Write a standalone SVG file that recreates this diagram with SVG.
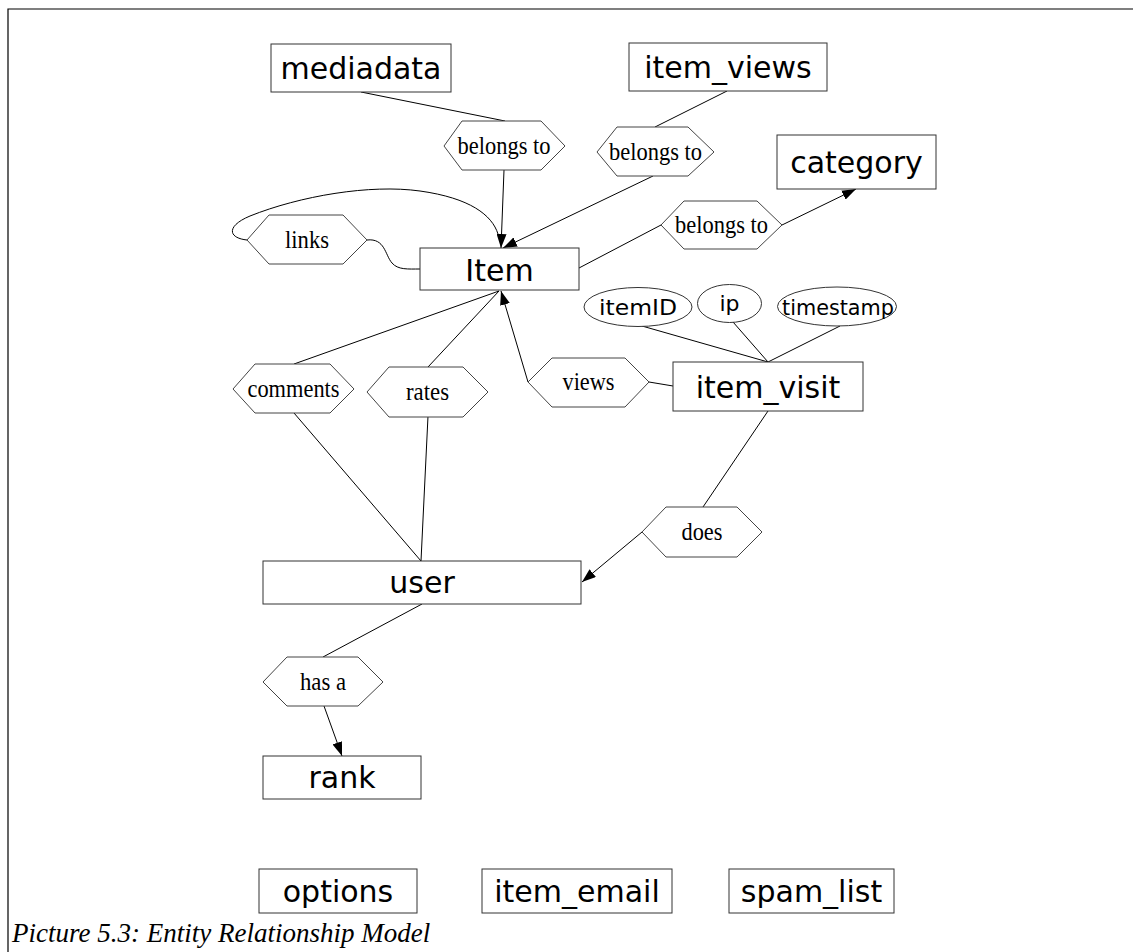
<svg xmlns="http://www.w3.org/2000/svg" width="1133" height="952" viewBox="0 0 1133 952">
  <style>
    .ent rect { fill: #fff; stroke: #333; stroke-width: 1; }
    .ent text { font-family: "DejaVu Sans", Verdana, sans-serif; font-size: 30px; text-anchor: middle; fill: #000; }
    .rel polygon { fill: #fff; stroke: #444; stroke-width: 1; }
    .rel text { font-family: "Liberation Serif", "Times New Roman", serif; font-size: 25px; text-anchor: middle; fill: #000; }
    .attr ellipse { fill: #fff; stroke: #333; stroke-width: 1; }
    .attr text { font-family: "DejaVu Sans", Verdana, sans-serif; font-size: 22px; text-anchor: middle; fill: #000; }
    .edge { fill: none; stroke: #000; stroke-width: 1; }
    .frame { fill: none; stroke: #000; stroke-width: 1.2; }
    .caption { font-family: "Liberation Serif", "Times New Roman", serif; font-style: italic; font-size: 27px; fill: #000; }
  </style>
  <defs>
    <marker id="arr" markerUnits="userSpaceOnUse" markerWidth="14" markerHeight="10" refX="14" refY="5" orient="auto">
      <path d="M0,0 L14,5 L0,10 z" fill="#000"/>
    </marker>
  </defs>

  <rect width="1133" height="952" fill="#fff"/>
  <!-- frame around the figure -->
  <path class="frame" d="M1133,9 H8 V952"/>

  <!-- connectors -->
  <g id="connectors">
    <line class="edge" x1="361" y1="92" x2="505" y2="121"/>
    <line class="edge" x1="504" y1="170" x2="501" y2="248" marker-end="url(#arr)"/>
    <line class="edge" x1="727" y1="91" x2="655" y2="127"/>
    <line class="edge" x1="653" y1="176" x2="503" y2="248" marker-end="url(#arr)"/>
    <line class="edge" x1="579" y1="268" x2="661" y2="225"/>
    <line class="edge" x1="782" y1="225" x2="856" y2="189" marker-end="url(#arr)"/>
    <path class="edge" d="M247,240 C228,238 226,226 250,216 C300,196 370,184 420,191 C470,198 492,215 498,234"/>
    <path class="edge" d="M367,240 C385,238 385,255 392,263 C398,270 408,269 420,269"/>
    <line class="edge" x1="294" y1="364" x2="499" y2="291"/>
    <line class="edge" x1="428" y1="367" x2="499" y2="291"/>
    <line class="edge" x1="528" y1="382" x2="501" y2="291" marker-end="url(#arr)"/>
    <line class="edge" x1="673" y1="386" x2="649" y2="382"/>
    <line class="edge" x1="642" y1="326" x2="768" y2="362"/>
    <line class="edge" x1="733" y1="322" x2="768" y2="362"/>
    <line class="edge" x1="840" y1="326" x2="768" y2="362"/>
    <line class="edge" x1="294" y1="413" x2="421" y2="561"/>
    <line class="edge" x1="428" y1="416" x2="421" y2="561"/>
    <line class="edge" x1="768" y1="411" x2="703" y2="507"/>
    <line class="edge" x1="642" y1="532" x2="582" y2="582" marker-end="url(#arr)"/>
    <line class="edge" x1="422" y1="604" x2="323" y2="657"/>
    <line class="edge" x1="324" y1="706" x2="342" y2="756" marker-end="url(#arr)"/>
  </g>

  <!-- entities -->
  <g id="mediadata" class="ent"><rect x="271" y="44" width="180" height="48"/><text x="361" y="79">mediadata</text></g>
  <g id="item_views" class="ent"><rect x="629" y="43" width="198" height="48"/><text x="728" y="78">item_views</text></g>
  <g id="category" class="ent"><rect x="777" y="135" width="159" height="54"/><text x="856.5" y="173">category</text></g>
  <g id="item" class="ent"><rect x="420" y="248" width="159" height="42"/><text x="499.5" y="281">Item</text></g>
  <g id="item_visit" class="ent"><rect x="673" y="362" width="190" height="49"/><text x="768" y="398">item_visit</text></g>
  <g id="user" class="ent"><rect x="263" y="561" width="318" height="43"/><text x="422" y="593">user</text></g>
  <g id="rank" class="ent"><rect x="263" y="756" width="158" height="43"/><text x="342" y="788">rank</text></g>
  <g id="options" class="ent"><rect x="259" y="869" width="158" height="44"/><text x="338" y="902">options</text></g>
  <g id="item_email" class="ent"><rect x="482" y="869" width="190" height="44"/><text x="577" y="902">item_email</text></g>
  <g id="spam_list" class="ent"><rect x="729" y="869" width="165" height="44"/><text x="811.5" y="902">spam_list</text></g>

  <!-- attributes of item_visit -->
  <g id="itemID" class="attr"><ellipse cx="638" cy="307" rx="54" ry="19.5"/><text x="638" y="315" textLength="78" lengthAdjust="spacingAndGlyphs">itemID</text></g>
  <g id="ip" class="attr"><ellipse cx="729.5" cy="303.5" rx="32" ry="19"/><text x="729.5" y="311">ip</text></g>
  <g id="timestamp" class="attr"><ellipse cx="837" cy="306.5" rx="59.5" ry="19.5"/><text x="838" y="315" textLength="112" lengthAdjust="spacingAndGlyphs">timestamp</text></g>

  <!-- relationships -->
  <g id="rel_media" class="rel"><polygon points="444,146 462,121 541,121 565,146 541,170 462,170"/><text x="504" y="154" textLength="93" lengthAdjust="spacingAndGlyphs">belongs to</text></g>
  <g id="rel_views_item" class="rel"><polygon points="597,152 617,127 688,127 714,152 688,176 617,176"/><text x="655.5" y="160" textLength="93" lengthAdjust="spacingAndGlyphs">belongs to</text></g>
  <g id="rel_category" class="rel"><polygon points="661,225 684,201 757,201 782,225 757,249 684,249"/><text x="721.5" y="233" textLength="93" lengthAdjust="spacingAndGlyphs">belongs to</text></g>
  <g id="rel_links" class="rel"><polygon points="247,240 269,215 343,215 367,240 343,264 269,264"/><text x="307" y="248" textLength="44" lengthAdjust="spacingAndGlyphs">links</text></g>
  <g id="rel_comments" class="rel"><polygon points="233,389 255,364 330,364 354,389 330,413 255,413"/><text x="293.5" y="397" textLength="92" lengthAdjust="spacingAndGlyphs">comments</text></g>
  <g id="rel_rates" class="rel"><polygon points="367,392 389,367 463,367 488,392 463,417 389,417"/><text x="427.5" y="400" textLength="43" lengthAdjust="spacingAndGlyphs">rates</text></g>
  <g id="rel_views" class="rel"><polygon points="528,382 552,358 625,358 649,382 625,407 552,407"/><text x="588.5" y="390" textLength="52" lengthAdjust="spacingAndGlyphs">views</text></g>
  <g id="rel_does" class="rel"><polygon points="642,532 666,507 737,507 762,532 737,557 666,557"/><text x="702" y="540" textLength="41" lengthAdjust="spacingAndGlyphs">does</text></g>
  <g id="rel_has_a" class="rel"><polygon points="263,682 287,657 358,657 383,682 358,706 287,706"/><text x="323" y="690" textLength="46" lengthAdjust="spacingAndGlyphs">has a</text></g>

  <text class="caption" x="12" y="942">Picture 5.3: Entity Relationship Model</text>
</svg>
